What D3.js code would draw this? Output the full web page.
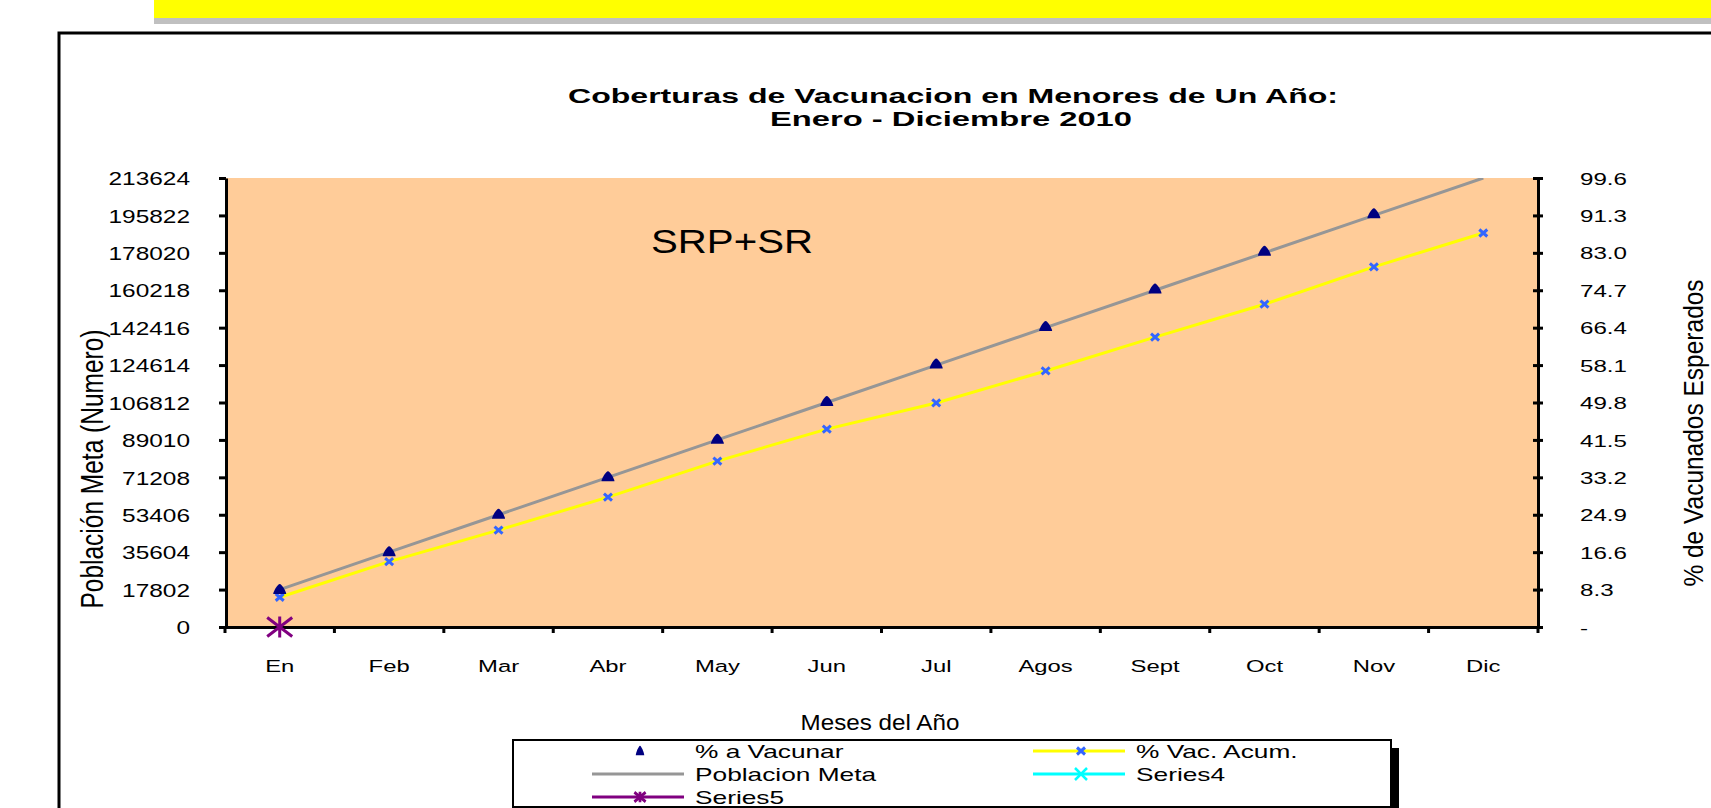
<!DOCTYPE html>
<html>
<head>
<meta charset="utf-8">
<script src="https://cdn.jsdelivr.net/npm/d3@7"></script>
<style>
  body { margin: 0; background: #fff; }
  svg { display: block; font-family: Arial, "Liberation Sans", sans-serif; }
</style>
</head>
<body>
<div id="chart"></div>
<script>
// ---- data ----
var months = ["En", "Feb", "Mar", "Abr", "May", "Jun", "Jul", "Agos", "Sept", "Oct", "Nov", "Dic"];
var poblacionMeta = [17802, 35604, 53406, 71208, 89010, 106812, 124614, 142416, 160218, 178020, 195822, 213624];
var pctAVacunar = [8.33, 16.67, 25.0, 33.33, 41.67, 50.0, 58.33, 66.67, 75.0, 83.33, 91.67, 100.0];
var pctVacAcum = [6.6, 14.5, 21.5, 28.8, 36.8, 43.9, 49.7, 56.8, 64.3, 71.6, 79.9, 87.4];
var series4 = [null, null, null, null, null, null, null, null, null, null, null, null];
var series5 = [0, null, null, null, null, null, null, null, null, null, null, null];

var leftTicks = [0, 17802, 35604, 53406, 71208, 89010, 106812, 124614, 142416, 160218, 178020, 195822, 213624];
var leftTickLabels = ["0", "17802", "35604", "53406", "71208", "89010", "106812", "124614", "142416", "160218", "178020", "195822", "213624"];
var rightTicks = [0, 8.3, 16.6, 24.9, 33.2, 41.5, 49.8, 58.1, 66.4, 74.7, 83.0, 91.3, 99.6];
var rightTickLabels = ["-", "8.3", "16.6", "24.9", "33.2", "41.5", "49.8", "58.1", "66.4", "74.7", "83.0", "91.3", "99.6"];

var legendNames = ["% a Vacunar", "% Vac. Acum.", "Poblacion Meta", "Series4", "Series5"];

// ---- layout ----
var W = 1711, H = 808;
var plot = {left: 225, right: 1538, top: 178, bottom: 627};
var FONT = 'Arial, "Liberation Sans", sans-serif';

var svg = d3.select("#chart").append("svg")
    .attr("width", W)
    .attr("height", H);

// stretch text horizontally (the picture is wider than the original chart)
function stretch(sel, k) {
  sel.each(function() {
    var w = this.getComputedTextLength();
    d3.select(this).attr("textLength", w * k).attr("lengthAdjust", "spacingAndGlyphs");
  });
}

// banner on top
svg.append("rect").attr("x", 154).attr("y", 0).attr("width", W - 154).attr("height", 18).attr("fill", "#FFFF00");
svg.append("rect").attr("x", 154).attr("y", 18).attr("width", W - 154).attr("height", 6).attr("fill", "#C0C0C0");

// chart area border
svg.append("rect")
    .attr("x", 59).attr("y", 33)
    .attr("width", W + 40).attr("height", H)
    .attr("fill", "#fff")
    .attr("stroke", "#000")
    .attr("stroke-width", 3);

// title
var title = svg.append("text")
    .attr("text-anchor", "middle")
    .attr("font-family", FONT)
    .attr("font-weight", "bold")
    .attr("font-size", 19.5)
    .attr("fill", "#000");
title.append("tspan").attr("x", 953).attr("y", 103)
    .attr("textLength", 770).attr("lengthAdjust", "spacingAndGlyphs")
    .text("Coberturas de Vacunacion en Menores de Un Año:");
title.append("tspan").attr("x", 951).attr("y", 126)
    .attr("textLength", 362).attr("lengthAdjust", "spacingAndGlyphs")
    .text("Enero - Diciembre 2010");

// scales
var x = d3.scaleBand().domain(months).range([plot.left, plot.right]).padding(0);
var yLeft = d3.scaleLinear().domain([0, 213624]).range([plot.bottom, plot.top]);
var yRight = d3.scaleLinear().domain([0, 99.6]).range([plot.bottom, plot.top]);
var cx = function(i) { return x(months[i]) + x.bandwidth() / 2; };

// plot background
svg.append("rect")
    .attr("x", plot.left).attr("y", plot.top)
    .attr("width", plot.right - plot.left)
    .attr("height", plot.bottom - plot.top)
    .attr("fill", "#FFCC99");

svg.append("clipPath").attr("id", "plotClip")
  .append("rect")
    .attr("x", plot.left).attr("y", plot.top)
    .attr("width", plot.right - plot.left)
    .attr("height", plot.bottom - plot.top);

// SRP+SR label
svg.append("text")
    .attr("x", 651).attr("y", 253)
    .attr("font-family", FONT)
    .attr("font-size", 33)
    .attr("fill", "#000")
    .attr("textLength", 162).attr("lengthAdjust", "spacingAndGlyphs")
    .text("SRP+SR");

// lines
var lines = svg.append("g").attr("clip-path", "url(#plotClip)");

var lineLeft = d3.line()
  .defined(function(d) { return d != null; })
  .x(function(d, i) { return cx(i); })
  .y(function(d) { return yLeft(d); });
var lineRight = d3.line()
  .defined(function(d) { return d != null; })
  .x(function(d, i) { return cx(i); })
  .y(function(d) { return yRight(d); });

lines.append("path")
    .datum(poblacionMeta)
    .attr("fill", "none")
    .attr("stroke", "#969696")
    .attr("stroke-width", 3)
    .attr("d", lineLeft);

lines.append("path")
    .datum(pctVacAcum)
    .attr("fill", "none")
    .attr("stroke", "#FFFF00")
    .attr("stroke-width", 3)
    .attr("d", lineRight);

lines.append("path")
    .datum(series4)
    .attr("fill", "none")
    .attr("stroke", "#00FFFF")
    .attr("stroke-width", 3)
    .attr("d", lineRight);

// axes
function styleText(sel, size) {
  sel.attr("font-family", FONT).attr("font-size", size).attr("fill", "#000");
}

var gl = svg.append("g")
    .attr("transform", "translate(226,0)")
    .call(d3.axisLeft(yLeft)
      .tickValues(leftTicks)
      .tickFormat(function(d, i) { return leftTickLabels[i]; })
      .tickSizeInner(7)
      .tickSizeOuter(0)
      .tickPadding(29));
gl.select(".domain").attr("stroke", "#000").attr("stroke-width", 3);
gl.selectAll(".tick line").attr("stroke", "#000").attr("stroke-width", 3);
styleText(gl.selectAll(".tick text").attr("dy", "0.36em"), 18.5);
stretch(gl.selectAll(".tick text"), 1.32);

var gr = svg.append("g")
    .attr("transform", "translate(" + plot.right + ",0)")
    .call(d3.axisRight(yRight)
      .tickValues(rightTicks)
      .tickFormat(function(d, i) { return rightTickLabels[i]; })
      .tickSizeInner(5)
      .tickSizeOuter(0)
      .tickPadding(37));
gr.select(".domain").attr("stroke", "#000").attr("stroke-width", 3);
gr.selectAll(".tick line").attr("x1", -5).attr("x2", 5).attr("stroke", "#000").attr("stroke-width", 3);
styleText(gr.selectAll(".tick text").attr("dy", "0.36em"), 17);
stretch(gr.selectAll(".tick text"), 1.42);

var gb = svg.append("g")
    .attr("transform", "translate(0," + plot.bottom + ")")
    .call(d3.axisBottom(x).tickSize(0).tickSizeOuter(0).tickPadding(33));
gb.select(".domain").attr("stroke", "#000").attr("stroke-width", 3);
styleText(gb.selectAll(".tick text"), 16.8);
stretch(gb.selectAll(".tick text"), 1.42);

// category boundary ticks on x axis
var bounds = months.map(function(m) { return x(m); }).concat([x.range()[1]]);
gb.selectAll(".bound")
  .data(bounds)
  .enter().append("line")
    .attr("class", "bound")
    .attr("x1", function(d) { return d; })
    .attr("x2", function(d) { return d; })
    .attr("y1", 0)
    .attr("y2", 6)
    .attr("stroke", "#000")
    .attr("stroke-width", 3);

// axis titles
var xt = svg.append("text")
    .attr("x", 880).attr("y", 730)
    .attr("text-anchor", "middle")
    .attr("font-family", FONT)
    .attr("font-size", 22)
    .attr("fill", "#000")
    .text("Meses del Año");
stretch(xt, 1.1);

svg.append("text")
    .attr("transform", "translate(103,469) rotate(-90) scale(1,1.3)")
    .attr("text-anchor", "middle")
    .attr("font-family", FONT)
    .attr("font-size", 24.5)
    .attr("fill", "#000")
    .text("Población Meta (Numero)");

svg.append("text")
    .attr("transform", "translate(1703,433) rotate(-90) scale(1,1.15)")
    .attr("text-anchor", "middle")
    .attr("font-family", FONT)
    .attr("font-size", 24.5)
    .attr("fill", "#000")
    .text("% de Vacunados Esperados");

// marker shapes
var TRI = "M0,-5.5 C2,-5.5 6.5,2 6.5,4.5 L-6.5,4.5 C-6.5,2 -2,-5.5 0,-5.5 Z";
var XMARK = "M-4,-3.5 L4,3.5 M-4,3.5 L4,-3.5";
var BIGX = "M-6,-6 L6,6 M-6,6 L6,-6";
var STAR = "M-12.5,-9.5 L12.5,9.5 M-12.5,9.5 L12.5,-9.5 M0,-10.5 L0,10.5";

// % Vac. Acum. markers
svg.append("g").selectAll("path")
  .data(pctVacAcum.map(function(v, i) { return {v: v, i: i}; }).filter(function(d) { return d.v != null; }))
  .enter().append("path")
    .attr("transform", function(d) { return "translate(" + cx(d.i) + "," + yRight(d.v) + ")"; })
    .attr("d", XMARK)
    .attr("fill", "none")
    .attr("stroke", "#3366FF")
    .attr("stroke-width", 3);

// % a Vacunar triangles (points above the axis max are not drawn)
svg.append("g").selectAll("path")
  .data(pctAVacunar.map(function(v, i) { return {v: v, i: i}; })
    .filter(function(d) { return d.v != null && d.v <= yRight.domain()[1]; }))
  .enter().append("path")
    .attr("transform", function(d) { return "translate(" + cx(d.i) + "," + yRight(d.v) + ")"; })
    .attr("d", TRI)
    .attr("fill", "#000080");

// Series5
svg.append("g").selectAll("path")
  .data(series5.map(function(v, i) { return {v: v, i: i}; }).filter(function(d) { return d.v != null; }))
  .enter().append("path")
    .attr("transform", function(d) { return "translate(" + cx(d.i) + "," + yLeft(d.v) + ")"; })
    .attr("d", STAR)
    .attr("fill", "none")
    .attr("stroke", "#800080")
    .attr("stroke-width", 3);

// legend
var lg = svg.append("g");
lg.append("rect").attr("x", 1391).attr("y", 748).attr("width", 8).attr("height", 70).attr("fill", "#000");
lg.append("rect").attr("x", 521).attr("y", 807).attr("width", 878).attr("height", 8).attr("fill", "#000");
lg.append("rect")
    .attr("x", 513).attr("y", 740)
    .attr("width", 878).attr("height", 67)
    .attr("fill", "#fff")
    .attr("stroke", "#000")
    .attr("stroke-width", 2);

var legendStyle = [
  {col: 0, row: 0, line: null, shape: TRI, fill: "#000080", stroke: null},
  {col: 1, row: 0, line: "#FFFF00", shape: XMARK, fill: "none", stroke: "#3366FF"},
  {col: 0, row: 1, line: "#969696", shape: null},
  {col: 1, row: 1, line: "#00FFFF", shape: BIGX, fill: "none", stroke: "#00FFFF"},
  {col: 0, row: 2, line: "#800080", shape: STAR, fill: "none", stroke: "#800080"}
];
var colX = [592, 1033];
var rowY = [751, 774, 797];

legendNames.forEach(function(name, k) {
  var s = legendStyle[k];
  var x0 = colX[s.col], y0 = rowY[s.row];
  if (s.line) {
    lg.append("line")
      .attr("x1", x0).attr("x2", x0 + 92)
      .attr("y1", y0).attr("y2", y0)
      .attr("stroke", s.line)
      .attr("stroke-width", 3);
  }
  if (s.shape) {
    var sc = s.shape === STAR ? "scale(0.45,0.5)" : (s.shape === TRI ? "scale(0.65,0.95)" : "scale(1)");
    lg.append("path")
      .attr("transform", "translate(" + (x0 + 48) + "," + y0 + ") " + sc)
      .attr("d", s.shape)
      .attr("fill", s.fill)
      .attr("stroke", s.stroke)
      .attr("stroke-width", s.shape === STAR ? 6 : (s.shape === BIGX ? 2.5 : 3));
  }
  var t = lg.append("text")
    .attr("x", x0 + 103)
    .attr("y", y0 + 7)
    .attr("font-family", FONT)
    .attr("font-size", 18.5)
    .attr("fill", "#000")
    .text(name);
  stretch(t, 1.42);
});
</script>
</body>
</html>
